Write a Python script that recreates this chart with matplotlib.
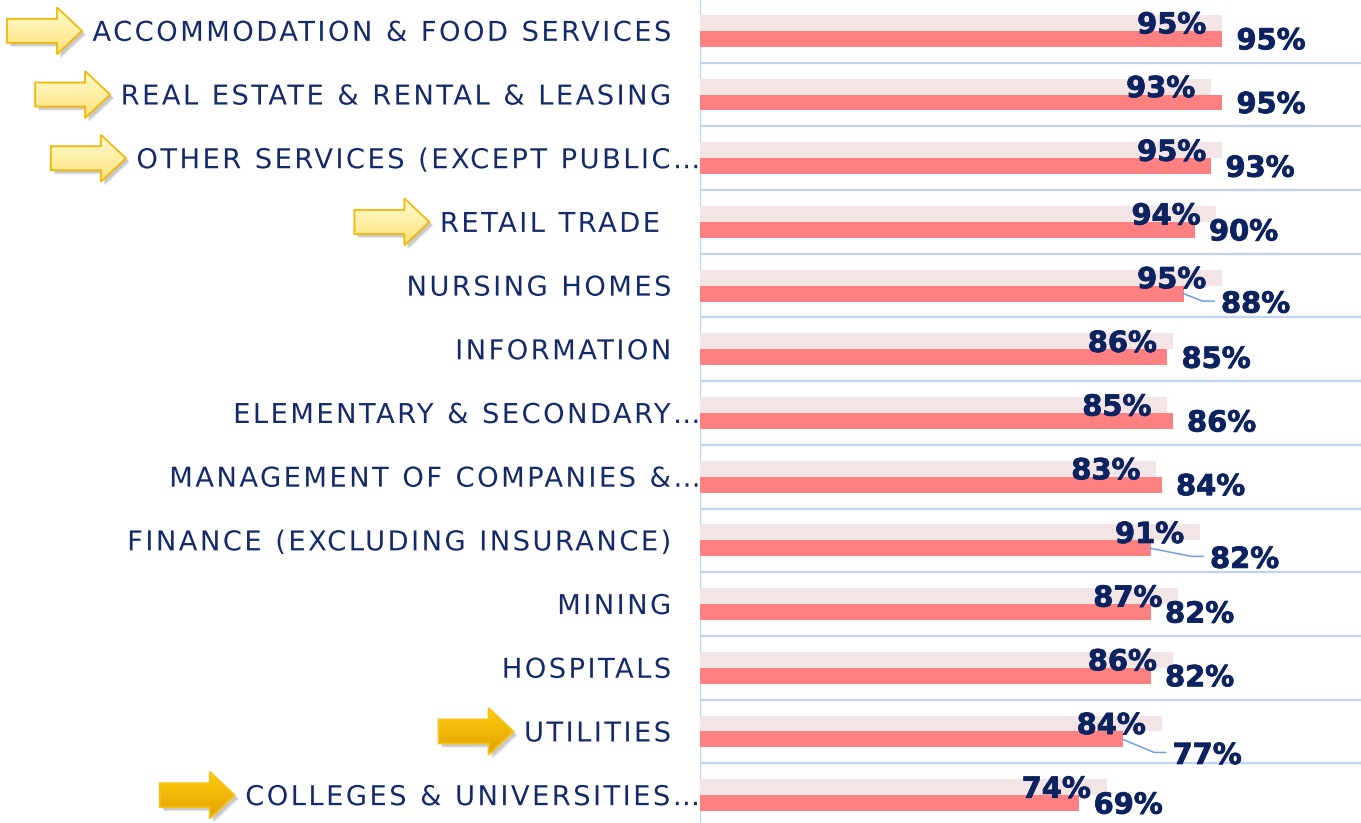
import numpy as np
import matplotlib
matplotlib.use('Agg')
import matplotlib.pyplot as plt
import matplotlib.patheffects as pe
from matplotlib.patches import Polygon
from matplotlib.path import Path
from matplotlib.patheffects import AbstractPathEffect
from matplotlib.textpath import text_to_path
from matplotlib.font_manager import FontProperties
from matplotlib.colors import LinearSegmentedColormap

# data
categories = ['ACCOMMODATION & FOOD SERVICES', 'REAL ESTATE & RENTAL & LEASING',
              'OTHER SERVICES (EXCEPT PUBLIC\u2026', 'RETAIL TRADE ', 'NURSING HOMES',
              'INFORMATION', 'ELEMENTARY & SECONDARY\u2026', 'MANAGEMENT OF COMPANIES &\u2026',
              'FINANCE (EXCLUDING INSURANCE)', 'MINING', 'HOSPITALS', 'UTILITIES',
              'COLLEGES & UNIVERSITIES\u2026']
prev_pct = [95, 93, 95, 94, 95, 86, 85, 83, 91, 87, 86, 84, 74]
curr_pct = [95, 95, 93, 90, 88, 85, 86, 84, 82, 82, 82, 77, 69]
light_arrow_rows = [0, 1, 2, 3]
gold_arrow_rows = [11, 12]

# labels that were dragged away from their bar (gap, drop in px)
moved_labels = {4: (39, 8.5), 8: (61, 9), 11: (51, 14)}

W, H = 1361, 823
navy = '#0c2360'
cat_color = '#142a69'
grid_c = '#bfd3f5'
cat_size = 19.7
tracking = 0.089   # letter spacing in em


class Tracking(AbstractPathEffect):
    # spreads the glyphs of a right aligned label (letter spacing)
    def __init__(self, s, prop, em):
        super().__init__()
        font = text_to_path._get_font(prop)
        info = text_to_path.get_glyphs_with_font(font, s)[0]
        self.xpos = np.array([g[1] for g in info])
        self.step = em * text_to_path.FONT_SCALE

    def draw_path(self, renderer, gc, tpath, affine, rgbFace=None):
        verts = tpath.vertices.copy()
        codes = tpath.codes
        starts = np.flatnonzero(codes == Path.MOVETO)
        ends = np.append(starts[1:], len(codes))
        n = len(self.xpos)
        for a, b in zip(starts, ends):
            keep = codes[a:b] != Path.CLOSEPOLY
            xm = verts[a:b][keep, 0].mean()
            i = np.searchsorted(self.xpos, xm, side='right') - 1
            verts[a:b, 0] += (i - (n - 1)) * self.step
        renderer.draw_path(gc, Path(verts, codes), affine, rgbFace)


fig = plt.figure(figsize=(W / 100, H / 100), dpi=100)
ax = fig.add_axes([700 / W, -4 / H, 661 / W, 828 / H])
y = np.arange(len(categories))
ax.barh(y - 0.125, prev_pct, height=0.25, color='#f3e5e5')
ax.barh(y + 0.125, curr_pct, height=0.25, color='#ff8080')
ax.set_xlim(0, 120.3)
ax.set_ylim(len(categories) - 0.5, -0.5)
for b in np.arange(len(categories) + 1) - 0.5:
    ax.axhline(b, color=grid_c, lw=1.6, zorder=0)
ax.axvline(0, color=grid_c, lw=1.6, zorder=0)
for s in ax.spines.values():
    s.set_visible(False)
ax.set_xticks([])
ax.set_yticks([])

# overlay in pixel coords (y down) for arrows and leader lines
ov = fig.add_axes([0, 0, 1, 1], zorder=5)
ov.axis('off')

# value labels
bold = [pe.withStroke(linewidth=0.6, foreground=navy)]
for i, v in enumerate(prev_pct):
    ax.annotate(f'{v}%', (v, i - 0.125), xytext=(-16, -10.5), textcoords='offset pixels',
                ha='right', va='baseline', fontsize=20.8, fontweight='bold', color=navy,
                path_effects=bold)
for i, v in enumerate(curr_pct):
    gap, drop = moved_labels.get(i, (16, 0))
    ax.annotate(f'{v}%', (v, i + 0.125), xytext=(gap - 1.5, -drop - 10.5), textcoords='offset pixels',
                ha='left', va='baseline', fontsize=20.8, fontweight='bold', color=navy,
                path_effects=bold)

# category labels
prop = FontProperties(family='DejaVu Sans', size=cat_size)
cat_texts = []
for i, lab in enumerate(categories):
    pad = 0 if lab.endswith('\u2026') else -29
    t = ax.annotate(lab, (0, i), xycoords=('axes fraction', 'data'), xytext=(pad, -10),
                    textcoords='offset pixels', ha='right', va='baseline',
                    fontproperties=prop, color=cat_color, annotation_clip=False,
                    path_effects=[Tracking(lab, prop, tracking)])
    cat_texts.append(t)

fig.canvas.draw()
renderer = fig.canvas.get_renderer()

# leader lines for the moved labels
for i, (gap, drop) in moved_labels.items():
    xd, yd = ax.transData.transform((curr_pct[i], i + 0.125))
    py = H - yd
    ly = py + drop - 1
    ov.plot([xd, xd + gap - 20, xd + gap - 8.5], [py, ly, ly], color='#6f9cf0', lw=1.1)


def block_arrow(tip_x, cy, top, bottom, edge):
    L, head, sh, hh = 75, 25, 24, 47
    x0, xb = tip_x - L, tip_x - head
    pts = [(x0, cy - sh / 2), (xb, cy - sh / 2), (xb, cy - hh / 2), (tip_x, cy),
           (xb, cy + hh / 2), (xb, cy + sh / 2), (x0, cy + sh / 2)]
    for k, a in [(4, 0.15), (3, 0.2)]:
        ov.add_patch(Polygon([(px + k, py + k) for px, py in pts], closed=True,
                             fc='0.35', ec='none', alpha=a, zorder=1))
    poly = Polygon(pts, closed=True, fc='none', ec=edge, lw=1.3, zorder=3)
    ov.add_patch(poly)
    cmap = LinearSegmentedColormap.from_list('arr', [top, bottom])
    im = ov.imshow(np.linspace(0, 1, 64).reshape(-1, 1), cmap=cmap, aspect='auto',
                   extent=(x0, tip_x, cy + hh / 2, cy - hh / 2), zorder=2)
    im.set_clip_path(poly)


for i in light_arrow_rows + gold_arrow_rows:
    t = cat_texts[i]
    bb = t.get_window_extent(renderer)
    n = len(categories[i])
    step_px = tracking * cat_size * 100 / 72
    left = bb.x0 - (n - 1) * step_px + 1.5
    cy = H - ax.transData.transform((0, i))[1]
    if i in light_arrow_rows:
        block_arrow(left - 12, cy, '#fffbd2', '#ffe27a', '#f2b705')
    else:
        block_arrow(left - 12, cy, '#ffcd10', '#e3a000', '#f7c31a')

ov.set_xlim(0, W)
ov.set_ylim(H, 0)

fig.savefig('out.png', dpi=100)
